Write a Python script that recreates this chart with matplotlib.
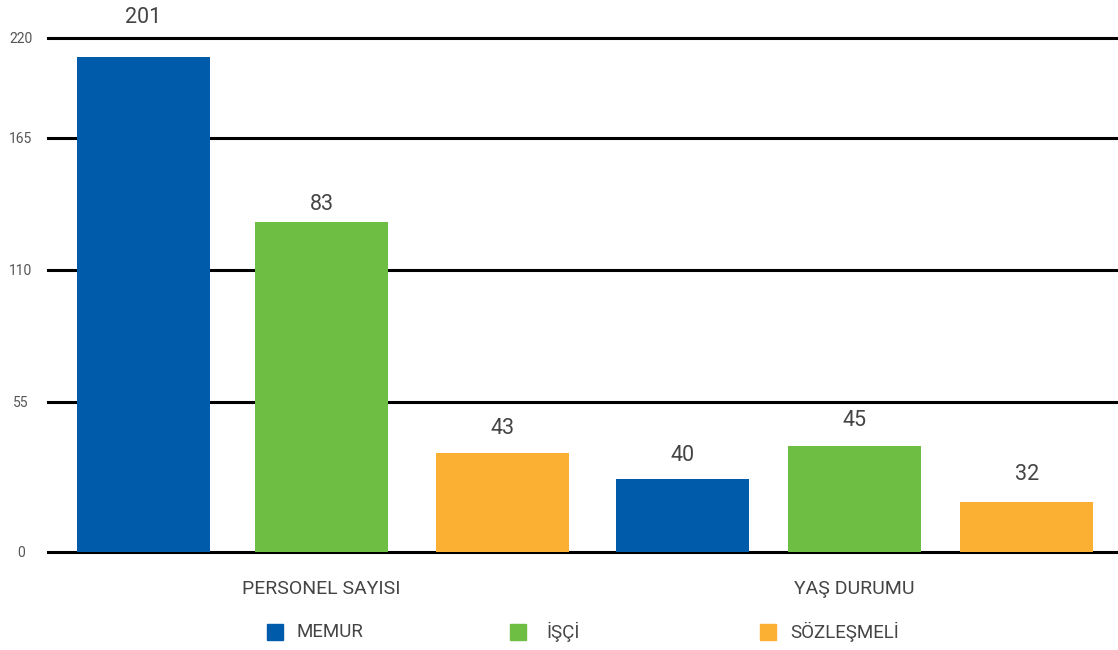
import numpy as np
import matplotlib
matplotlib.use("Agg")
import matplotlib.pyplot as plt
from matplotlib.patches import Rectangle

plt.rcParams['font.family'] = ['Roboto', 'DejaVu Sans']

# categories and series
groups = ["PERSONEL SAYISI", "YAŞ DURUMU"]
series = ["MEMUR", "İŞÇİ", "SÖZLEŞMELİ"]
# printed value of each bar
memur = [201, 40]
isci = [83, 45]
sozlesmeli = [43, 32]
# drawn bar heights, read off the (non-linear) axis of the picture
memur_h = [209.5, 26.5]
isci_h = [130, 38.6]
sozlesmeli_h = [36, 18.1]
yticks = [0, 55, 110, 165, 220]

colors = ["#005BAA", "#6FBE44", "#FBAF33"]
label_gap = [[39, 24], [17, 26], [25, 28]]  # px from bar top to label centre

# the reference axis has uneven gridline spacing: map ticks to those spots
tick_px = np.array([0, 150, 282, 414, 514], dtype=float)
def fwd(v):
    return np.interp(v, yticks, tick_px)
def inv(p):
    return np.interp(p, tick_px, yticks)

fig = plt.figure(figsize=(11.18, 6.5), dpi=100)
W, H = 1118, 650
ax = fig.add_axes([48 / W, (H - 551.5) / H, (W - 48) / W, 514 / H])
ax.set_yscale('function', functions=(fwd, inv))
ax.set_ylim(0, 220)
ax.set_xlim(-0.513, 1.494)

x = np.arange(len(groups))
# bar offsets within each group (series x group)
offsets = np.array([[-0.334, -0.323], [0.0, 0.0], [0.340, 0.323]])
width = 0.25
heights = [memur_h, isci_h, sozlesmeli_h]
values = [memur, isci, sozlesmeli]

for v in yticks:
    ax.axhline(v, color="black", lw=2.2, zorder=1, clip_on=False)

for i in range(3):
    bars = ax.bar(x + offsets[i], heights[i], width, color=colors[i], zorder=2)
    for j, b in enumerate(bars):
        ax.annotate(str(values[i][j]), (b.get_x() + b.get_width() / 2, b.get_height()),
                    xytext=(0, label_gap[i][j] * 0.72), textcoords="offset points",
                    ha="center", va="center", fontsize=15.5, color="#444444",
                    annotation_clip=False)

for s in ax.spines.values():
    s.set_visible(False)
ax.set_yticks(yticks)
ax.set_yticklabels([str(t) for t in yticks], fontsize=10, color="#555555")
ax.tick_params(axis='y', length=0, pad=19.5)
for lab in ax.get_yticklabels():
    lab.set_horizontalalignment("center")
ax.set_xticks(x)
ax.set_xticklabels(groups, fontsize=14, color="#444444")
ax.tick_params(axis='x', length=0, pad=20.5)

# legend
leg_sq = [267, 510, 760]
leg_tx = [297, 546, 790]
for i in range(3):
    fig.add_artist(Rectangle((leg_sq[i] / W, (H - 640) / H), 16 / W, 16 / H,
                             color=colors[i], transform=fig.transFigure))
    fig.text(leg_tx[i] / W, (H - 632) / H, series[i], fontsize=13.5,
             color="#444444", va="center", ha="left")

fig.savefig("out.png", dpi=100)
